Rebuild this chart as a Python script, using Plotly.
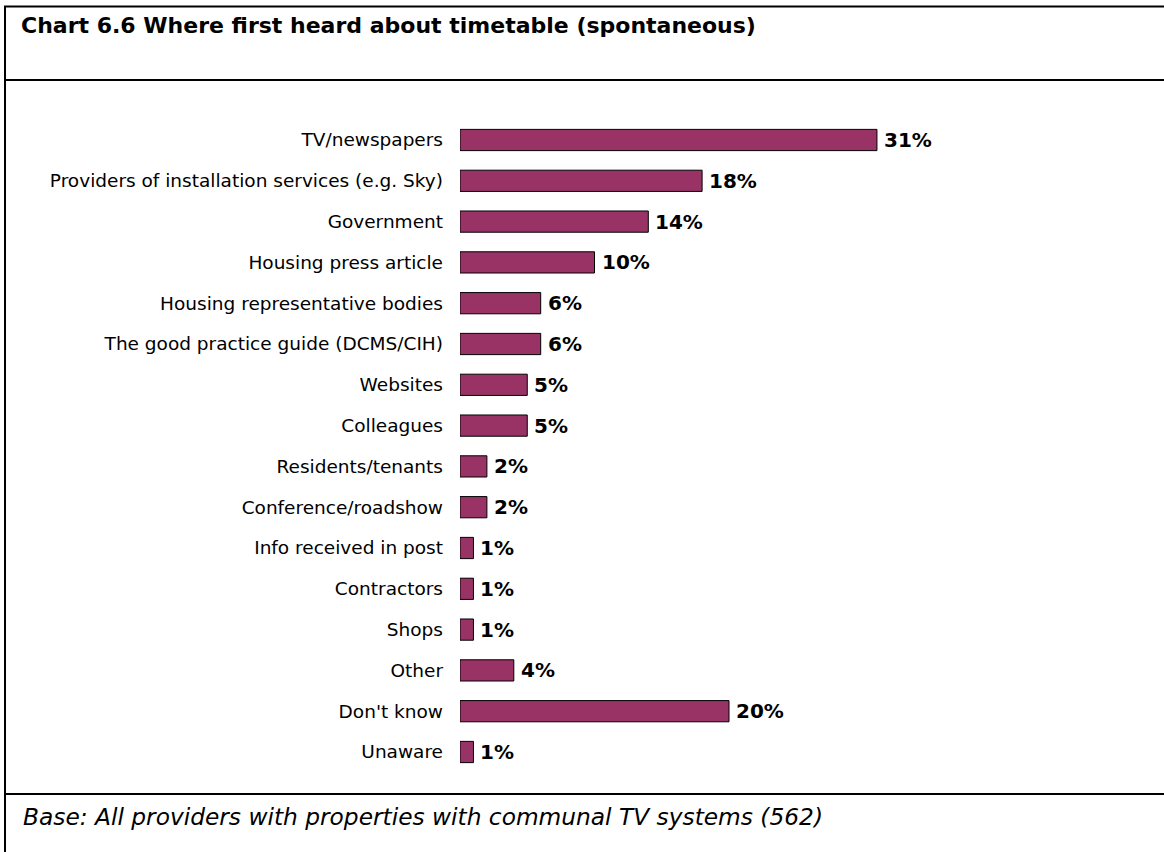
import plotly.graph_objects as go

categories = [
    "TV/newspapers",
    "Providers of installation services (e.g. Sky)",
    "Government",
    "Housing press article",
    "Housing representative bodies",
    "The good practice guide (DCMS/CIH)",
    "Websites",
    "Colleagues",
    "Residents/tenants",
    "Conference/roadshow",
    "Info received in post",
    "Contractors",
    "Shops",
    "Other",
    "Don't know",
    "Unaware",
]
values = [31, 18, 14, 10, 6, 6, 5, 5, 2, 2, 1, 1, 1, 4, 20, 1]

title_text = "Chart 6.6 Where first heard about timetable (spontaneous)"
base_text = "Base: All providers with properties with communal TV systems (562)"

W, H = 1164, 852
BAR_COLOR = "#993366"


def px(x):
    return x / W


def py(y):
    return 1 - y / H


fig = go.Figure()
fig.add_trace(go.Bar(
    x=values,
    y=categories,
    orientation="h",
    marker=dict(color=BAR_COLOR, line=dict(color="#000000", width=1)),
    hoverinfo="skip",
))

# value labels to the right of each bar
for cat, val in zip(categories, values):
    fig.add_annotation(
        x=val, y=cat, xref="x", yref="y",
        text=f"<b>{val}%</b>", showarrow=False,
        xanchor="left", yanchor="middle", xshift=5,
        font=dict(family="DejaVu Sans", size=20, color="#000000"),
    )

# frame lines around the title, chart and base note
line_style = dict(color="#000000", width=2)
for y in (6.5, 80, 794):
    fig.add_shape(type="line", xref="paper", yref="paper",
                  x0=px(4), x1=1, y0=py(y), y1=py(y), line=line_style)
fig.add_shape(type="line", xref="paper", yref="paper",
              x0=px(5), x1=px(5), y0=py(6.5), y1=0, line=line_style)

fig.add_annotation(
    x=px(19), y=py(25), xref="paper", yref="paper",
    text=f"<b>{title_text}</b>", showarrow=False,
    xanchor="left", yanchor="middle",
    font=dict(family="DejaVu Sans", size=22, color="#000000"),
)
fig.add_annotation(
    x=px(21), y=py(816), xref="paper", yref="paper",
    text=f"<i>{base_text}</i>", showarrow=False,
    xanchor="left", yanchor="middle",
    font=dict(family="DejaVu Sans", size=23.3, color="#000000"),
)

band = 40.8
top = 140 - band / 2
bottom = top + band * len(categories)
x0 = 460
scale = 13.45  # pixels per percentage point

fig.update_layout(
    width=W, height=H,
    margin=dict(l=0, r=0, t=0, b=0),
    paper_bgcolor="#ffffff",
    plot_bgcolor="#ffffff",
    showlegend=False,
    bargap=0.48,
    xaxis=dict(
        domain=[px(x0), 1],
        range=[0, (W - x0) / scale],
        visible=False,
        fixedrange=True,
    ),
    yaxis=dict(
        domain=[py(bottom), py(top)],
        autorange="reversed",
        showgrid=False, zeroline=False, showline=False,
        ticks="",
        ticklabelstandoff=16,
        tickfont=dict(family="DejaVu Sans", size=18.5, color="#000000"),
        fixedrange=True,
    ),
)

fig.write_html("out.html")
